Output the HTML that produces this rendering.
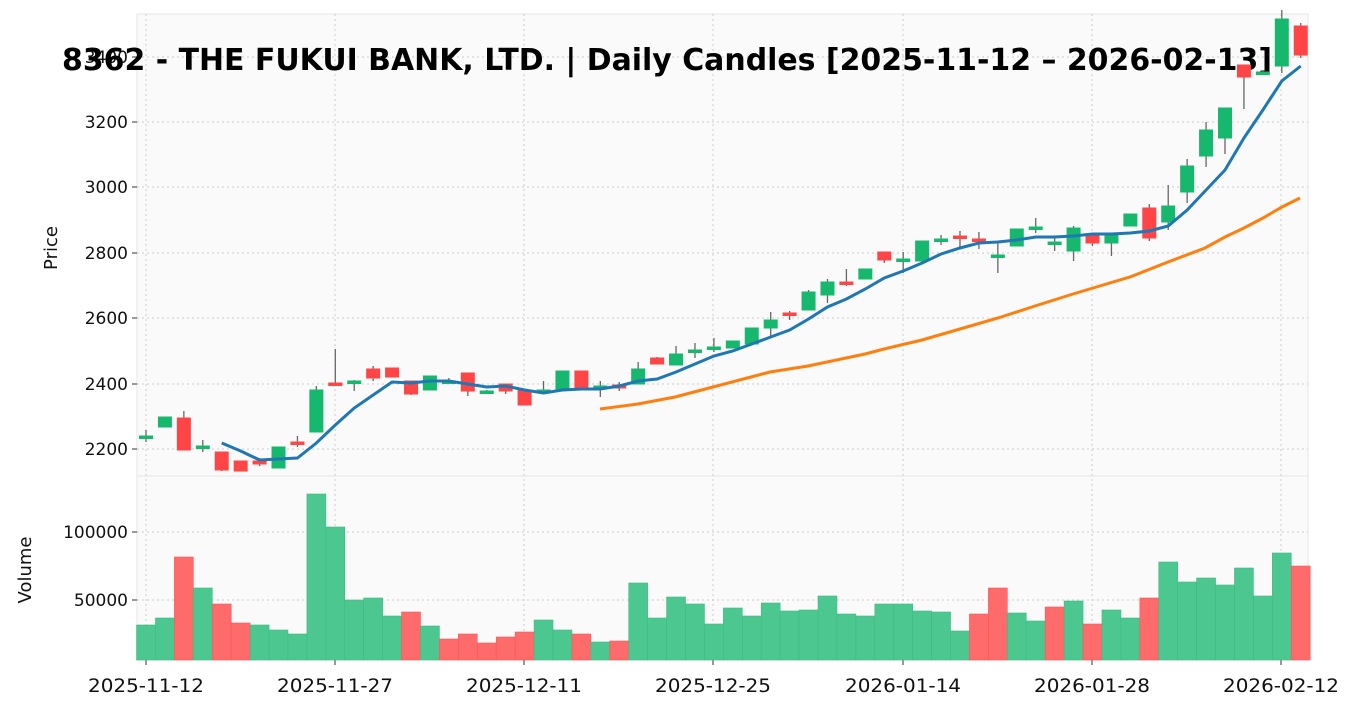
<!DOCTYPE html><html><head><style>body{margin:0;background:#fff}svg{display:block;font-family:"DejaVu Sans","Liberation Sans",sans-serif}</style></head><body>
<svg id="s" width="1357" height="711" xmlns="http://www.w3.org/2000/svg"></svg>
<script>
const s=document.getElementById('s');let h='';
h+='<rect x="137" y="14" width="1171" height="462" fill="#fafafa" stroke="#e6e6e6"/>';
h+='<rect x="137" y="476" width="1171" height="184" fill="#fafafa" stroke="#e6e6e6"/>';
const vx=[146,335,524,713,903,1092,1281],vl=['2025-11-12','2025-11-27','2025-12-11','2025-12-25','2026-01-14','2026-01-28','2026-02-12'];
vx.forEach((x,i)=>{h+=`<line x1="${x}" y1="14" x2="${x}" y2="660" stroke="#ccc" stroke-dasharray="2,3"/><line x1="${x}" y1="660" x2="${x}" y2="665" stroke="#333"/><text x="${x-58}" y="692" font-size="18.5" textLength="116" lengthAdjust="spacingAndGlyphs" fill="#111">${vl[i]}</text>`});
[[449,2200],[384,2400],[318,2600],[253,2800],[187,3000],[122,3200],[57,3400]].forEach(([y,t])=>{h+=`<line x1="137" y1="${y}" x2="1308" y2="${y}" stroke="#ccc" stroke-dasharray="2,3"/><line x1="132" y1="${y}" x2="137" y2="${y}" stroke="#333"/><text x="128" y="${y+6}" font-size="17" text-anchor="end" fill="#111">${t}</text>`});
[[532,'100000'],[600,'50000']].forEach(([y,t])=>{h+=`<line x1="137" y1="${y}" x2="1308" y2="${y}" stroke="#ccc" stroke-dasharray="2,3"/><line x1="132" y1="${y}" x2="137" y2="${y}" stroke="#333"/><text x="128" y="${y+6}" font-size="17" text-anchor="end" fill="#111">${t}</text>`});
h+='<text transform="translate(57,248) rotate(-90)" font-size="18" text-anchor="middle" fill="#111">Price</text>';
h+='<text transform="translate(31,570) rotate(-90)" font-size="18" text-anchor="middle" fill="#111">Volume</text>';
const vt=[625,618,557,588,604,623,625,630,634,494,527,600,598,616,612,626,639,634,643,637,632,620,630,634,642,641,583,618,597,604,624,608,616,603,611,610,596,614,616,604,604,611,612,631,614,588,613,621,607,601,624,610,618,598,562,582,578,585,568,596,553,566];
const reds=new Set([2,4,5,14,16,17,18,19,20,23,25,44,45,48,50,53,61]);
const C=[['g',436,436,430,442],['g',427,417,417,427],['r',418,450,411,450],['g',446,446,440,452],['r',452,470,452,471],['r',461,471,461,471],['r',461,464,458,466],['g',468,447,447,468],['r',442,442,436,447],['g',432,390,386,432],['r',383,383,349,384],['g',381,381,380,391],['r',369,378,366,381],['r',368,377,368,377],['r',381,394,381,395],['g',390,376,376,390],['g',381,381,378,384],['r',373,391,373,396],['g',391,391,390,393],['r',384,391,384,394],['r',390,405,390,405],['g',390,390,381,393],['g',390,371,371,390],['r',371,390,371,390],['g',386,386,381,397],['r',385,388,382,391],['g',384,369,362,384],['r',358,364,357,364],['g',365,354,346,365],['g',350,350,343,358],['g',347,347,338,352],['g',348,341,341,348],['g',344,328,328,344],['g',328,320,312,336],['r',313,313,311,320],['g',310,292,290,310],['g',295,282,279,303],['r',282,282,269,286],['g',279,269,269,279],['r',252,260,252,263],['g',259,259,252,273],['g',261,241,241,261],['g',239,239,235,245],['r',236,236,231,249],['r',239,239,232,249],['g',255,255,243,273],['g',246,229,229,246],['g',227,227,218,233],['g',242,242,236,251],['g',251,228,226,261],['r',234,243,234,246],['g',243,234,234,256],['g',226,214,214,226],['r',208,238,204,241],['g',222,206,185,230],['g',192,166,159,203],['g',156,130,122,167],['g',138,108,108,154],['r',65,77,65,109],['g',72,72,70,75],['g',66,19,10,73],['r',26,55,23,58]];
const X=i=>146+18.93*i;
vt.forEach((t,i)=>{const r=reds.has(i);h+=`<rect x="${X(i)-9.46}" y="${t}" width="18.93" height="${660-t}" fill="${r?'#ff6b6b':'#4cc790'}" stroke="${r?'#f55':'#3dbb82'}" stroke-width="0.6"/>`});
h+='<text x="62" y="70" font-size="30" font-weight="bold" textLength="1210" lengthAdjust="spacingAndGlyphs" fill="#000">8362 - THE FUKUI BANK, LTD. | Daily Candles [2025-11-12 – 2026-02-13]</text>';
C.forEach((c,i)=>{const x=X(i),col=c[0]=='g'?'#16b86e':'#ff4545';const t=Math.min(c[1],c[2]),b=Math.max(c[1],c[2]);
h+=`<line x1="${x}" y1="${c[3]}" x2="${x}" y2="${c[4]}" stroke="#666" stroke-width="1.3"/><rect x="${x-6.5}" y="${t}" width="13" height="${Math.max(b-t,2.5)}" fill="${col}" stroke="${col}" stroke-width="1"/>`});
const b=[443,451,460,459,458,443,425,408,395,382,383,381,381,384,387,386,390,393,390,389,389,386,381,379,372,364,356,351,344,337,330,319,307,299,289,278,271,263,254,248,243,242,240,237,237,236,234,234,233,231,226,210,190,170,138,110,81,66];
h+=`<polyline fill="none" stroke="#1f77b4" stroke-width="3" points="${b.map((y,k)=>X(k+4)+','+y).join(' ')}"/>`;
const o=[[600,409],[638,404],[675,397],[713,387],[751,377],[770,372],[808,366],[846,358],[865,354],[884,349],[922,340],[960,329],[998,318],[1035,306],[1073,294],[1103,285],[1130,277],[1168,262],[1205,248],[1225,237],[1244,228],[1263,218],[1282,207],[1300,198]];
h+=`<polyline fill="none" stroke="#ff7f0e" stroke-width="3" points="${o.map(p=>p.join(',')).join(' ')}"/>`;
s.innerHTML=h;
</script></body></html>
